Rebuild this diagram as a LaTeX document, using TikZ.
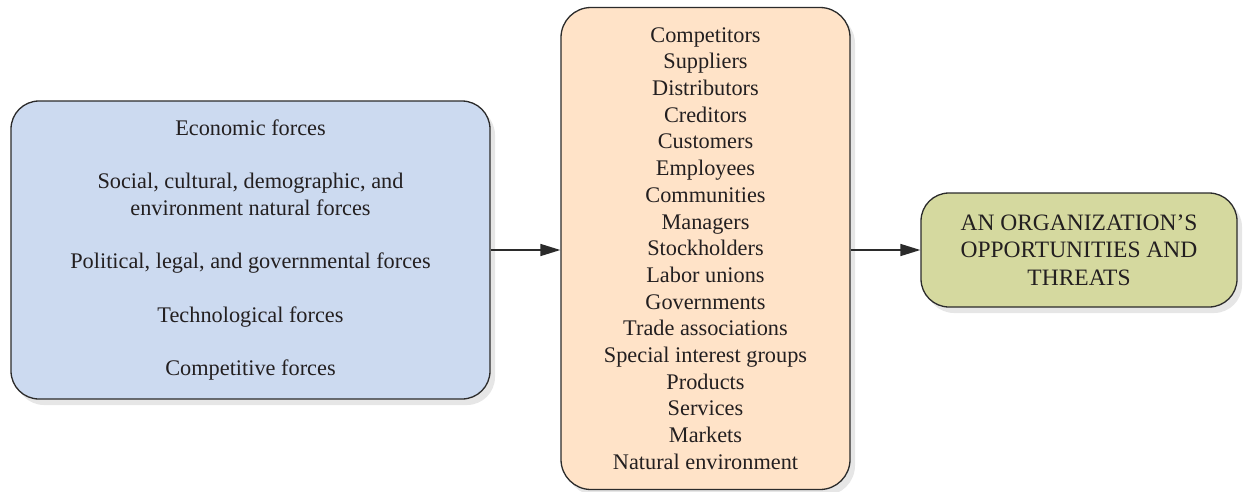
\documentclass[tikz,border=0pt]{standalone}
\usepackage{fontspec}
\setmainfont{Liberation Serif}
\usetikzlibrary{shadows,arrows.meta}
\definecolor{txt}{HTML}{231F20}
\definecolor{edge}{HTML}{2B2B2B}
\definecolor{bluefill}{HTML}{CCDAF0}
\definecolor{peachfill}{HTML}{FFE3C8}
\definecolor{greenfill}{HTML}{D5D99F}
\tikzset{
  box/.style={draw=edge, line width=1.3pt, rounded corners=28pt, align=center,
    text=txt, font=\fontsize{22.3}{26.7}\selectfont, inner sep=0pt,
    drop shadow={opacity=0.2, shadow xshift=5pt, shadow yshift=-6pt}},
  conn/.style={draw=edge, line width=1.5pt, -{Triangle[length=20pt,width=12pt]}}
}
\begin{document}
\begin{tikzpicture}[x=1pt,y=-1pt]
\useasboundingbox (0,0) rectangle (1246,491);
\node[box, fill=bluefill, minimum width=479pt, minimum height=298pt] (env) at (250.5,250)
 {Economic forces\\[26.7pt]
  Social, cultural, demographic, and\\ environment natural forces\\[26.7pt]
  Political, legal, and governmental forces\\[26.7pt]
  Technological forces\\[26.7pt]
  Competitive forces};
\node[box, fill=peachfill, minimum width=289pt, minimum height=482pt, rounded corners=30pt] (stake) at (705.5,248.5)
 {Competitors\\ Suppliers\\ Distributors\\ Creditors\\ Customers\\ Employees\\ Communities\\ Managers\\ Stockholders\\ Labor unions\\ Governments\\ Trade associations\\ Special interest groups\\ Products\\ Services\\ Markets\\ Natural environment};
\node[box, fill=greenfill, minimum width=316pt, minimum height=114pt, font=\fontsize{23.5}{27.5}\selectfont] (org) at (1079,250)
 {AN ORGANIZATION'S\\ OPPORTUNITIES AND\\ THREATS};
\draw[conn] (env.east) -- (env.east -| stake.west);
\draw[conn] (stake.east |- org.west) -- (org.west);
\end{tikzpicture}
\end{document}
